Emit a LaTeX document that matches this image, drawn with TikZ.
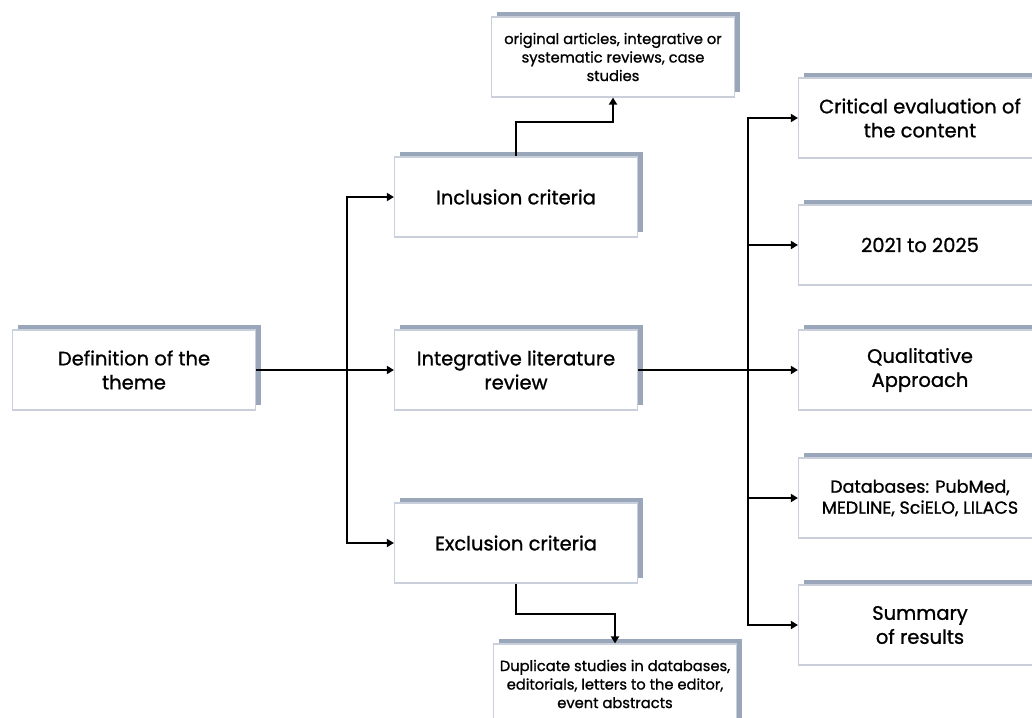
\documentclass[tikz,border=0pt]{standalone}
\usepackage{fontspec}
\setmainfont{Poppins}[FakeBold=1]
\usetikzlibrary{arrows.meta,shadows}
\definecolor{boxline}{HTML}{C9D0DB}
\definecolor{boxshade}{HTML}{9AA6B9}

\begin{document}
\begin{tikzpicture}[x=1pt,y=-1pt,
  thick,box/.style={rectangle,draw=boxline,line width=1.2pt,fill=white,
    general shadow={fill=boxshade,shadow xshift=5pt,shadow yshift=5pt},
    minimum width=243pt,minimum height=80pt,align=center,
    font=\fontsize{19.5}{24}\selectfont},
  small box/.style={box,font=\fontsize{14.7}{18.5}\selectfont},
  link/.style={line width=2pt,-{Triangle[length=7pt,width=8pt]}} ]

  \useasboundingbox[fill=white] (0,0) rectangle (1032,717);

  \node[box] (def) at (134,370) {Definition of the\\theme};
  \node[box] (inc) at (516,197) {Inclusion criteria};
  \node[box] (ilr) at (516,370) {Integrative literature\\review};
  \node[box] (exc) at (516,543) {Exclusion criteria};
  \node[small box] (orig) at (613,57) {original articles, integrative or\\systematic reviews, case\\studies};
  \node[small box] (dup) at (615,684) {Duplicate studies in databases,\\editorials, letters to the editor,\\event abstracts};

  \node[box] (crit) at (920,118) {Critical evaluation of\\the content};
  \node[box] (years) at (920,245) {2021 to 2025};
  \node[box] (qual) at (920,370) {Qualitative\\Approach};
  \node[box,font=\fontsize{17.5}{21}\selectfont] (db) at (920,498) {Databases: PubMed,\\MEDLINE, SciELO, LILACS};
  \node[box] (sum) at (920,625) {Summary\\of results};

  \coordinate (j1) at (347,370);
  \coordinate (j2) at (748,370);

  \draw[link] (def) -- (ilr);
  \draw[link] (j1) |- (inc);
  \draw[link] (j1) |- (exc);
  \draw[link] (inc.north) -- ++(0,-34) -| (orig);
  \draw[link] (exc.south) -- ++(0,30) -| (dup);

  \draw[link] (ilr) -- (qual);
  \draw[link] (j2) |- (crit);
  \draw[link] (j2) |- (years);
  \draw[link] (j2) |- (db);
  \draw[link] (j2) |- (sum);
\end{tikzpicture}
\end{document}
